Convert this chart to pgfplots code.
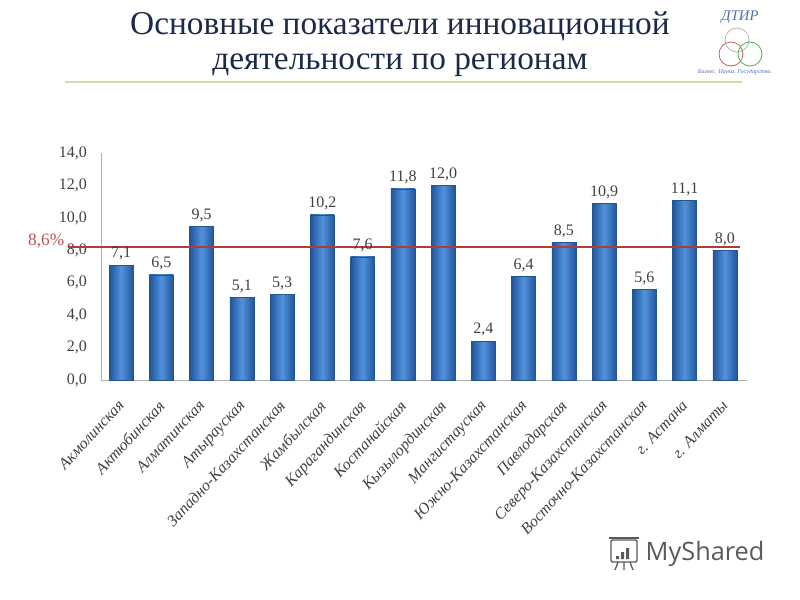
\documentclass[border=0pt]{standalone}
\usepackage{fontspec}
\setmainfont{Liberation Serif}
\newfontfamily\wmfont{Open Sans}
\usepackage{pgfplots}
\pgfplotsset{compat=1.18}
\definecolor{titlecol}{HTML}{1B2A48}
\definecolor{bardark}{HTML}{21549A}
\definecolor{barlight}{HTML}{5292DC}
\definecolor{baredge}{HTML}{23558F}
\definecolor{redline}{HTML}{B33A3A}
\definecolor{redtext}{HTML}{C0504D}
\definecolor{ticktext}{HTML}{404040}
\definecolor{uline}{HTML}{D9D9A8}
\definecolor{logoblue}{HTML}{4F6FB8}
\definecolor{wmgray}{HTML}{5A5A5A}
\pgfplotsset{
  onebar/.style={ybar, bar shift=0pt, bar width=0.6, draw=baredge, line width=0.4pt,
    left color=bardark, right color=bardark, middle color=barlight,
    nodes near coords,
    nodes near coords style={font=\fontsize{12}{14}\selectfont, text=ticktext, /pgf/number format/.cd, fixed, fixed zerofill, precision=1, use comma, assume math mode=true}},
}
\begin{document}
\begin{tikzpicture}[x=0.75pt,y=-0.75pt]
\useasboundingbox (0,0) rectangle (800,600);
% title
\node[font=\fontsize{25}{30}\selectfont, text=titlecol] at (400,26) {Основные показатели инновационной};
\node[font=\fontsize{25}{30}\selectfont, text=titlecol] at (400,65) {деятельности по регионам};
\draw[uline, line width=1.5pt] (65,82) -- (742,82);
% logo
\node[font=\itshape\fontsize{11}{12}\selectfont, text=logoblue] at (740,17) {ДТИР};
\draw[gray!60, line width=0.6pt] (737,40) circle (12);
\draw[redline!80, line width=0.6pt] (731,54) circle (12);
\draw[green!40!gray, line width=0.6pt] (750,54) circle (12);
\node[font=\itshape\fontsize{4.5}{5}\selectfont, text=logoblue] at (735,72) {Бизнес. Наука. Государство.};
% watermark
\draw[wmgray, line width=1pt, rounded corners=1pt] (611,540) rectangle (637,562);
\draw[wmgray, line width=1pt] (609,538) -- (639,538);
\fill[wmgray] (616,556) rectangle (619,559) (621,552) rectangle (624,559) (626,548) rectangle (629,559);
\draw[wmgray, line width=1pt] (618,562) -- (615,570) (624,562) -- (624,570) (630,562) -- (633,570);
\node[font=\wmfont\fontsize{19}{22}\selectfont, text=wmgray, anchor=west] at (641,554) {MyShared};
% red label
\node[font=\fontsize{13}{15}\selectfont, text=redtext, anchor=east] at (69,241) {8,6\%};
\begin{axis}[
  at={(75.75pt,-285pt)}, anchor=south west,
  scale only axis, width=484.5pt, height=170pt,
  xmin=-0.5, xmax=15.55, ymin=0, ymax=14,
  clip=false,
  axis lines=left,
  axis line style={gray!60, -, line width=0.6pt},
  major tick length=0pt,
  ytick={0,2,...,14},
  xtick={0,...,15},
  xticklabels={Акмолинская, Актюбинская, Алматинская, Атырауская, Западно-Казахстанская, Жамбылская, Карагандинская, Костанайская, Кызылординская, Мангистауская, Южно-Казахстанская, Павлодарская, Северо-Казахстанская, Восточно-Казахстанская, г. Астана, г. Алматы},
  xticklabel style={xshift=-3pt, yshift=-14pt, rotate=47, anchor=north east, font=\itshape\fontsize{12}{14}\selectfont, text=ticktext, inner sep=0pt},
  yticklabel style={font=\fontsize{12}{14}\selectfont, text=ticktext, xshift=-7pt},
  /pgf/number format/assume math mode=true,
  yticklabel={\pgfmathprintnumber[fixed, fixed zerofill, precision=1, use comma]{\tick}},
]
\addplot[onebar] coordinates {(0,7.1)};
\addplot[onebar] coordinates {(1,6.5)};
\addplot[onebar] coordinates {(2,9.5)};
\addplot[onebar] coordinates {(3,5.1)};
\addplot[onebar] coordinates {(4,5.3)};
\addplot[onebar] coordinates {(5,10.2)};
\addplot[onebar] coordinates {(6,7.6)};
\addplot[onebar] coordinates {(7,11.8)};
\addplot[onebar] coordinates {(8,12.0)};
\addplot[onebar] coordinates {(9,2.4)};
\addplot[onebar] coordinates {(10,6.4)};
\addplot[onebar] coordinates {(11,8.5)};
\addplot[onebar] coordinates {(12,10.9)};
\addplot[onebar] coordinates {(13,5.6)};
\addplot[onebar] coordinates {(14,11.1)};
\addplot[onebar] coordinates {(15,8.0)};
\addplot[redline, line width=1.5pt, no marks] coordinates {(-1.32,8.2) (15.37,8.2)};
\end{axis}
\end{tikzpicture}
\end{document}
